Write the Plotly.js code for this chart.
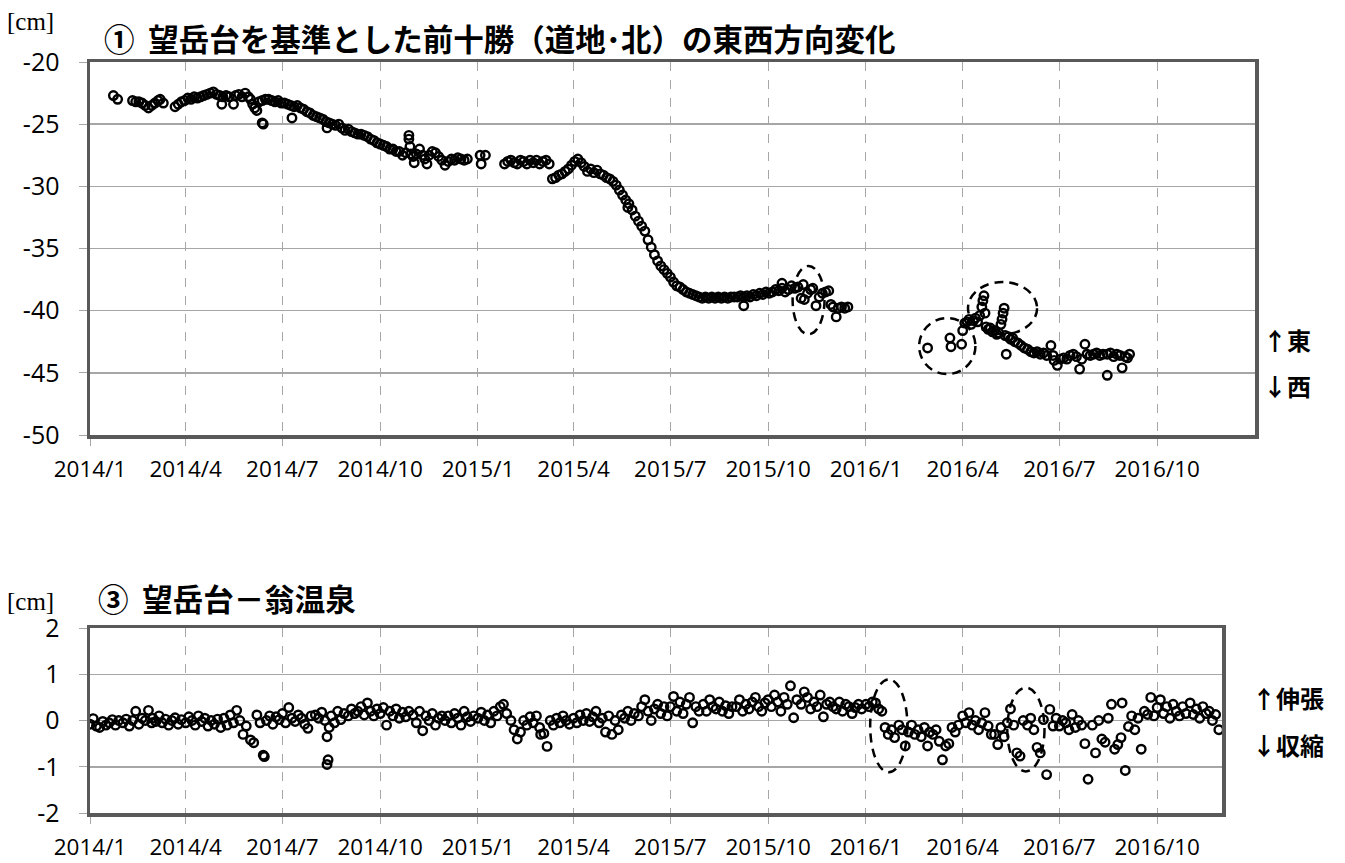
<!DOCTYPE html>
<html><head><meta charset="utf-8">
<script src="https://cdn.plot.ly/plotly-3.0.1.min.js"></script>
<style>html,body{margin:0;padding:0;background:#fff;}#chart{width:1345px;height:863px;}</style>
</head><body><div id="chart"></div>
<script>
// ---- Panel 1: 望岳台を基準とした前十勝(道地・北)の東西方向変化 [cm]
const topDates = [
"2014-01-23","2014-01-27","2014-02-10","2014-02-13","2014-02-16","2014-02-19","2014-02-22","2014-02-25","2014-02-28","2014-03-03",
"2014-03-06","2014-03-08","2014-03-11","2014-03-22","2014-03-25","2014-03-28","2014-03-31","2014-04-03","2014-04-06","2014-04-09",
"2014-04-12","2014-04-15","2014-04-18","2014-04-21","2014-04-24","2014-04-27","2014-04-30","2014-05-03","2014-05-05","2014-05-06",
"2014-05-09","2014-05-12","2014-05-16","2014-05-18","2014-05-21","2014-05-24","2014-05-27","2014-05-30","2014-06-01","2014-06-03",
"2014-06-05","2014-06-07","2014-06-09","2014-06-12","2014-06-13","2014-06-12","2014-06-15","2014-06-18","2014-06-21","2014-06-24",
"2014-06-27","2014-06-30","2014-07-03","2014-07-06","2014-07-09","2014-07-10","2014-07-12","2014-07-15","2014-07-18","2014-07-21",
"2014-07-24","2014-07-27","2014-07-30","2014-08-02","2014-08-05","2014-08-08","2014-08-11","2014-08-12","2014-08-14","2014-08-17",
"2014-08-20","2014-08-23","2014-08-26","2014-08-29","2014-09-01","2014-09-04","2014-09-07","2014-09-10","2014-09-13","2014-09-16",
"2014-09-19","2014-09-22","2014-09-25","2014-09-28","2014-10-01","2014-10-04","2014-10-07","2014-10-10","2014-10-13","2014-10-16",
"2014-10-19","2014-10-22","2014-10-25","2014-10-28","2014-10-28","2014-10-29","2014-10-30","2014-11-01","2014-11-02","2014-11-04",
"2014-11-07","2014-11-10","2014-11-12","2014-11-14","2014-11-16","2014-11-19","2014-11-22","2014-11-25","2014-11-28","2014-12-01",
"2014-12-04","2014-12-07","2014-12-10","2014-12-13","2014-12-16","2014-12-19","2014-12-22","2015-01-03","2015-01-04","2015-01-08",
"2015-01-26","2015-01-29","2015-02-01","2015-02-04","2015-02-07","2015-02-10","2015-02-13","2015-02-16","2015-02-19","2015-02-22",
"2015-02-25","2015-02-28","2015-03-03","2015-03-06","2015-03-09","2015-03-12","2015-03-15","2015-03-18","2015-03-21","2015-03-24",
"2015-03-27","2015-03-30","2015-04-02","2015-04-05","2015-04-08","2015-04-11","2015-04-14","2015-04-17","2015-04-20","2015-04-23",
"2015-04-26","2015-04-29","2015-05-02","2015-05-05","2015-05-08","2015-05-11","2015-05-14","2015-05-17","2015-05-20","2015-05-22",
"2015-05-23","2015-05-26","2015-05-29","2015-06-01","2015-06-04","2015-06-07","2015-06-10","2015-06-13","2015-06-16","2015-06-19",
"2015-06-22","2015-06-25","2015-06-28","2015-07-01","2015-07-04","2015-07-07","2015-07-10","2015-07-13","2015-07-16","2015-07-19",
"2015-07-22","2015-07-25","2015-07-28","2015-07-31","2015-08-03","2015-08-06","2015-08-09","2015-08-12","2015-08-15","2015-08-18",
"2015-08-21","2015-08-24","2015-08-27","2015-08-30","2015-09-02","2015-09-05","2015-09-08","2015-09-08","2015-09-11","2015-09-14",
"2015-09-17","2015-09-20","2015-09-23","2015-09-26","2015-09-29","2015-10-02","2015-10-05","2015-10-08","2015-10-11","2015-10-14",
"2015-10-14","2015-10-17","2015-10-20","2015-10-23","2015-10-26","2015-10-29","2015-11-01","2015-11-03","2015-11-04","2015-11-07",
"2015-11-10","2015-11-12","2015-11-15","2015-11-18","2015-11-21","2015-11-24","2015-11-27","2015-11-29","2015-12-01","2015-12-04",
"2015-12-06","2015-12-09","2015-12-12","2015-12-15",
"2016-02-28","2016-03-20","2016-03-21","2016-03-31","2016-04-01","2016-04-03","2016-04-05","2016-04-07","2016-04-09","2016-04-11",
"2016-04-13","2016-04-15","2016-04-17","2016-04-19","2016-04-20","2016-04-21","2016-04-22","2016-04-23","2016-04-25","2016-04-27",
"2016-04-29","2016-05-01","2016-05-03","2016-05-05","2016-05-07","2016-05-08","2016-05-09","2016-05-10","2016-05-11","2016-05-12",
"2016-05-14","2016-05-16","2016-05-18","2016-05-20","2016-05-23","2016-05-26","2016-05-29","2016-06-01","2016-06-04","2016-06-07",
"2016-06-10","2016-06-13","2016-06-16","2016-06-19","2016-06-23","2016-06-25","2016-06-26","2016-06-29","2016-07-02","2016-07-05",
"2016-07-08","2016-07-11","2016-07-14","2016-07-17","2016-07-20","2016-07-22","2016-07-25","2016-07-27","2016-07-30","2016-08-02",
"2016-08-05","2016-08-08","2016-08-11","2016-08-15","2016-08-15","2016-08-18","2016-08-21","2016-08-24","2016-08-27","2016-08-29",
"2016-09-01","2016-09-03","2016-09-05"
];
const topValues = [
-22.7,-23.0,-23.1,-23.2,-23.2,-23.3,-23.5,-23.7,-23.5,-23.3,
-23.1,-23.0,-23.3,-23.6,-23.4,-23.2,-23.1,-22.9,-23.0,-22.8,
-22.9,-22.8,-22.7,-22.6,-22.5,-22.4,-22.6,-22.7,-23.4,-22.8,
-22.7,-22.8,-23.4,-22.7,-22.6,-22.8,-22.5,-22.8,-23.0,-23.4,
-23.7,-23.9,-23.2,-24.9,-25.0,-23.1,-23.0,-23.0,-23.1,-23.2,
-23.1,-23.3,-23.3,-23.4,-23.5,-24.5,-23.6,-23.5,-23.7,-23.8,
-24.0,-24.1,-24.3,-24.4,-24.5,-24.6,-24.8,-25.3,-24.9,-25.0,
-25.1,-25.0,-25.3,-25.5,-25.4,-25.6,-25.7,-25.8,-25.8,-25.9,
-26.0,-26.2,-26.3,-26.5,-26.6,-26.7,-26.8,-27.0,-27.0,-27.2,
-27.2,-27.5,-27.3,-25.9,-26.2,-26.8,-27.4,-27.6,-28.1,-27.4,
-27.0,-27.5,-27.8,-28.2,-27.5,-27.2,-27.3,-27.6,-27.9,-28.3,
-28.0,-27.8,-27.9,-27.7,-27.8,-27.9,-27.8,-27.5,-28.2,-27.5,
-28.2,-28.0,-27.9,-28.1,-28.2,-27.9,-28.0,-28.2,-27.9,-28.1,
-27.9,-28.2,-28.0,-27.9,-28.2,-29.4,-29.3,-29.1,-29.0,-28.8,
-28.6,-28.3,-28.0,-27.8,-28.1,-28.4,-28.8,-28.6,-28.9,-28.7,
-29.0,-29.1,-29.3,-29.4,-29.6,-29.9,-30.3,-30.7,-31.1,-31.7,
-31.4,-31.9,-32.4,-32.8,-33.2,-33.6,-34.3,-34.9,-35.5,-36.0,
-36.4,-36.7,-37.0,-37.3,-37.7,-38.0,-38.1,-38.3,-38.5,-38.6,
-38.7,-38.8,-38.9,-39.0,-38.9,-39.0,-38.9,-39.0,-38.9,-39.0,
-38.9,-39.0,-38.9,-38.9,-38.9,-38.8,-39.6,-38.9,-38.8,-38.9,
-38.7,-38.8,-38.6,-38.7,-38.5,-38.6,-38.5,-38.3,-38.4,-37.8,
-38.2,-38.5,-38.3,-38.0,-38.2,-38.1,-39.0,-37.9,-39.1,-38.6,
-38.3,-38.2,-39.6,-38.9,-38.6,-38.5,-38.4,-39.5,-39.7,-40.5,
-39.8,-39.7,-39.8,-39.7,
-43.0,-42.2,-42.9,-42.7,-41.6,-41.0,-40.9,-40.7,-41.1,-40.8,
-40.6,-40.9,-40.4,-39.7,-39.2,-38.8,-40.2,-41.3,-41.5,-41.4,
-41.7,-41.6,-41.9,-41.8,-41.1,-40.7,-40.2,-39.8,-42.0,-43.5,
-42.1,-42.3,-42.2,-42.5,-42.6,-42.8,-43.0,-43.1,-43.3,-43.4,
-43.3,-43.5,-43.4,-43.6,-42.8,-43.6,-44.0,-44.4,-43.9,-43.8,
-43.9,-43.6,-43.5,-43.7,-44.7,-43.9,-42.7,-43.5,-43.6,-43.5,
-43.4,-43.6,-43.5,-45.2,-43.5,-43.4,-43.7,-43.5,-43.6,-44.6,
-43.7,-43.8,-43.5
];

// ---- Panel 3: 望岳台－翁温泉 [cm]
const bottomDates = [
"2014-01-01","2014-01-04","2014-01-07","2014-01-10","2014-01-13","2014-01-16","2014-01-19","2014-01-22","2014-01-25","2014-01-28",
"2014-02-01","2014-02-04","2014-02-07","2014-02-10","2014-02-13","2014-02-16","2014-02-19","2014-02-22","2014-02-25","2014-02-28",
"2014-03-01","2014-03-04","2014-03-07","2014-03-10","2014-03-13","2014-03-16","2014-03-19","2014-03-22","2014-03-25","2014-03-28",
"2014-04-01","2014-04-04","2014-04-07","2014-04-10","2014-04-13","2014-04-16","2014-04-19","2014-04-22","2014-04-25","2014-04-28",
"2014-05-01","2014-05-04","2014-05-07","2014-05-10","2014-05-13","2014-05-16","2014-05-19","2014-05-22","2014-05-25","2014-05-28",
"2014-06-01","2014-06-04","2014-06-07","2014-06-10","2014-06-13","2014-06-16","2014-06-19","2014-06-22","2014-06-25","2014-06-28",
"2014-07-01","2014-07-04","2014-07-07","2014-07-10","2014-07-13","2014-07-16","2014-07-19","2014-07-22","2014-07-25","2014-07-28",
"2014-08-01","2014-08-04","2014-08-07","2014-08-10","2014-08-13","2014-08-16","2014-08-19","2014-08-22","2014-08-25","2014-08-28",
"2014-09-01","2014-09-04","2014-09-07","2014-09-10","2014-09-13","2014-09-16","2014-09-19","2014-09-22","2014-09-25","2014-09-28",
"2014-10-01","2014-10-04","2014-10-07","2014-10-10","2014-10-13","2014-10-16","2014-10-19","2014-10-22","2014-10-25","2014-10-28",
"2014-11-01","2014-11-04","2014-11-07","2014-11-10","2014-11-13","2014-11-16","2014-11-19","2014-11-22","2014-11-25","2014-11-28",
"2014-12-01","2014-12-04","2014-12-07","2014-12-10","2014-12-13","2014-12-16","2014-12-19","2014-12-22","2014-12-25","2014-12-28",
"2015-01-01","2015-01-04","2015-01-07","2015-01-10","2015-01-13","2015-01-16","2015-01-19","2015-01-22","2015-01-25","2015-01-28",
"2015-02-01","2015-02-04","2015-02-07","2015-02-10","2015-02-13","2015-02-16","2015-02-19","2015-02-22","2015-02-25","2015-02-28",
"2015-03-01","2015-03-04","2015-03-07","2015-03-10","2015-03-13","2015-03-16","2015-03-19","2015-03-22","2015-03-25","2015-03-28",
"2015-04-01","2015-04-04","2015-04-07","2015-04-10","2015-04-13","2015-04-16","2015-04-19","2015-04-22","2015-04-25","2015-04-28",
"2015-05-01","2015-05-04","2015-05-07","2015-05-10","2015-05-13","2015-05-16","2015-05-19","2015-05-22","2015-05-25","2015-05-28",
"2015-06-01","2015-06-04","2015-06-07","2015-06-10","2015-06-13","2015-06-16","2015-06-19","2015-06-22","2015-06-25","2015-06-28",
"2015-07-01","2015-07-04","2015-07-07","2015-07-10","2015-07-13","2015-07-16","2015-07-19","2015-07-22","2015-07-25","2015-07-28",
"2015-08-01","2015-08-04","2015-08-07","2015-08-10","2015-08-13","2015-08-16","2015-08-19","2015-08-22","2015-08-25","2015-08-28",
"2015-09-01","2015-09-04","2015-09-07","2015-09-10","2015-09-13","2015-09-16","2015-09-19","2015-09-22","2015-09-25","2015-09-28",
"2015-10-01","2015-10-04","2015-10-07","2015-10-10","2015-10-13","2015-10-16","2015-10-19","2015-10-22","2015-10-25","2015-10-28",
"2015-11-01","2015-11-04","2015-11-07","2015-11-10","2015-11-13","2015-11-16","2015-11-19","2015-11-22","2015-11-25","2015-11-28",
"2015-12-01","2015-12-04","2015-12-07","2015-12-10","2015-12-13","2015-12-16","2015-12-19","2015-12-22","2015-12-25","2015-12-28",
"2016-01-01","2016-01-04","2016-01-07","2016-01-10","2016-01-13","2016-01-16","2016-01-19","2016-01-22","2016-01-25","2016-01-28",
"2016-02-01","2016-02-04","2016-02-07","2016-02-10","2016-02-13","2016-02-16","2016-02-19","2016-02-22","2016-02-25","2016-02-28",
"2016-03-01","2016-03-04","2016-03-07","2016-03-10","2016-03-13","2016-03-16","2016-03-19","2016-03-22","2016-03-25","2016-03-28",
"2016-04-01","2016-04-04","2016-04-07","2016-04-10","2016-04-13","2016-04-16","2016-04-19","2016-04-22","2016-04-25","2016-04-28",
"2016-05-01","2016-05-04","2016-05-07","2016-05-10","2016-05-13","2016-05-16","2016-05-19","2016-05-22","2016-05-25","2016-05-28",
"2016-06-01","2016-06-04","2016-06-07","2016-06-10","2016-06-13","2016-06-16","2016-06-19","2016-06-22","2016-06-25","2016-06-28",
"2016-07-01","2016-07-04","2016-07-07","2016-07-10","2016-07-13","2016-07-16","2016-07-19","2016-07-22","2016-07-25","2016-07-28",
"2016-08-01","2016-08-04","2016-08-07","2016-08-10","2016-08-13","2016-08-16","2016-08-19","2016-08-22","2016-08-25","2016-08-28",
"2016-09-01","2016-09-04","2016-09-07","2016-09-10","2016-09-13","2016-09-16","2016-09-19","2016-09-22","2016-09-25","2016-09-28",
"2016-10-01","2016-10-04","2016-10-07","2016-10-10","2016-10-13","2016-10-16","2016-10-19","2016-10-22","2016-10-25","2016-10-28",
"2016-11-01","2016-11-04","2016-11-07","2016-11-10","2016-11-13","2016-11-16","2016-11-19","2016-11-22","2016-11-25","2016-11-28",
"2014-06-14","2014-08-12","2014-08-12","2014-08-14","2016-08-29"
];
const bottomValues = [
-0.08,0.04,-0.12,-0.15,-0.02,-0.10,-0.05,0.02,-0.10,0.00,
-0.05,0.03,-0.12,0.00,0.20,-0.08,0.05,0.00,0.22,-0.05,
0.05,-0.02,0.10,-0.05,0.03,-0.10,0.00,0.06,-0.08,0.02,
-0.05,0.08,0.00,-0.10,0.10,-0.02,0.05,-0.12,0.00,-0.08,
0.03,-0.15,0.05,-0.10,0.12,-0.05,0.22,0.00,-0.30,-0.12,
-0.42,-0.48,0.12,-0.05,-0.75,0.00,0.10,-0.08,0.08,0.02,
0.15,-0.05,0.28,0.05,-0.02,0.12,0.05,-0.08,-0.17,0.10,
0.12,0.05,0.18,0.00,-0.85,0.10,-0.05,0.20,0.02,0.15,
0.10,0.25,0.15,0.20,0.30,0.12,0.38,0.20,0.10,0.25,
0.15,0.28,-0.10,0.20,0.10,0.25,0.05,0.18,0.08,0.20,
0.12,-0.05,0.20,-0.22,0.10,0.00,0.15,-0.10,0.05,0.10,
0.00,0.10,-0.05,0.15,0.05,-0.10,0.20,0.08,-0.02,0.10,
0.05,0.18,0.00,0.12,-0.05,0.20,0.10,0.30,0.35,0.15,
0.00,-0.20,-0.40,-0.25,0.00,-0.10,0.08,-0.05,0.10,-0.15,
-0.30,-0.28,-0.56,0.00,-0.10,0.05,-0.05,0.10,0.00,-0.08,
0.05,-0.05,0.12,0.00,0.15,-0.02,0.08,0.20,-0.05,0.05,
-0.25,0.10,-0.30,0.00,-0.20,0.12,0.05,0.20,0.00,0.15,
0.10,0.30,0.45,0.20,0.00,0.25,0.35,0.15,0.30,0.10,
0.30,0.52,0.20,0.40,0.15,0.35,0.50,-0.05,0.30,0.20,
0.35,0.20,0.45,0.30,0.25,0.40,0.20,0.32,0.15,0.30,
0.30,0.45,0.20,0.35,0.25,0.40,0.50,0.30,0.20,0.38,
0.45,0.30,0.55,0.40,0.20,0.50,0.35,0.75,0.06,0.45,
0.35,0.62,0.50,0.25,0.40,0.30,0.55,0.08,0.35,0.40,
0.30,0.25,0.40,0.20,0.35,0.30,0.15,0.28,0.35,0.25,
0.35,0.30,0.40,0.38,0.25,0.20,-0.15,-0.30,-0.20,-0.37,
-0.10,-0.20,-0.55,-0.25,-0.10,-0.30,-0.20,-0.35,-0.15,-0.55,
-0.25,-0.30,-0.20,-0.45,-0.85,-0.55,-0.50,-0.15,-0.25,-0.10,
0.10,-0.05,0.17,-0.10,0.00,-0.20,-0.05,0.17,-0.12,-0.30,
-0.30,-0.52,-0.15,-0.35,-0.05,0.25,-0.10,-0.70,-0.77,0.00,
-0.10,0.05,-0.20,-0.58,-0.70,0.02,-1.17,0.24,-0.12,0.05,
-0.12,0.00,-0.05,-0.20,0.13,-0.15,0.00,-0.10,-0.50,-1.27,
-0.10,-0.70,0.00,-0.40,-0.47,0.05,0.35,-0.62,-0.52,-0.37,
-1.08,-0.13,0.10,-0.20,0.05,-0.62,0.20,0.13,0.50,0.10,
0.28,0.45,0.15,0.30,0.05,0.35,0.20,0.10,0.30,0.15,
0.38,0.13,0.25,0.05,0.30,0.15,0.20,0.00,0.13,-0.20,
-0.78,-0.95,-0.35,-0.15,0.38
];

const xTickVals = ["2014-01-01","2014-04-01","2014-07-01","2014-10-01","2015-01-01","2015-04-01","2015-07-01","2015-10-01","2016-01-01","2016-04-01","2016-07-01","2016-10-01"];
const xTickText = ["2014/1","2014/4","2014/7","2014/10","2015/1","2015/4","2015/7","2015/10","2016/1","2016/4","2016/7","2016/10"];
const topYTicks = [-50,-45,-40,-35,-30,-25,-20];
const topYText = ["-50","-45","-40","-35","-30","-25","-20"];
const botYTicks = [-2,-1,0,1,2];
const botYText = ["-2","-1","0","1","2"];

const W = 1345, H = 863;
const px = v => v / W;
const py = v => 1 - v / H;

const markerStyle = {symbol: 'circle-open', size: 8.5, color: '#000', line: {width: 2.4, color: '#000'}};
const data = [
  {x: topDates, y: topValues, type: 'scatter', mode: 'markers', marker: markerStyle, xaxis: 'x', yaxis: 'y', hoverinfo: 'x+y'},
  {x: bottomDates, y: bottomValues, type: 'scatter', mode: 'markers', marker: markerStyle, xaxis: 'x2', yaxis: 'y2', hoverinfo: 'x+y'}
];

const tickFontX = {family: 'Open Sans, Noto Sans, sans-serif', size: 22.5, color: '#000'};
const tickFontY = {family: 'Open Sans, Noto Sans, sans-serif', size: 25, color: '#000'};
const frame = {showline: true, mirror: true, linecolor: '#595959', linewidth: 3.5};

const xBase = Object.assign({
  type: 'date', tickmode: 'array', tickvals: xTickVals, ticktext: xTickText,
  showgrid: true, gridcolor: '#a6a6a6', gridwidth: 1, griddash: 'dash',
  ticks: 'outside', ticklen: 7, tickcolor: '#a6a6a6', tickwidth: 1,
  tickfont: tickFontX, ticklabelstandoff: 4, zeroline: false, fixedrange: true
}, frame);
const yBase = Object.assign({
  tickmode: 'array', showgrid: true, gridcolor: '#a6a6a6', gridwidth: 1.5,
  ticks: 'outside', ticklen: 8, tickcolor: '#a6a6a6', tickwidth: 1,
  tickfont: tickFontY, ticklabelstandoff: 14, zeroline: false, fixedrange: true
}, frame);

const cjk = 'Noto Sans CJK JP, sans-serif';
const serif = 'Liberation Serif, serif';
const ellipse = (xr, yr, x0, x1, y0, y1) => ({
  type: 'circle', xref: xr, yref: yr, x0: x0, x1: x1, y0: y0, y1: y1,
  line: {color: '#000', width: 2.5, dash: '9px,6px'}
});

const layout = {
  width: W, height: H, margin: {l: 0, r: 0, t: 0, b: 0},
  paper_bgcolor: '#fff', plot_bgcolor: '#fff', showlegend: false,
  xaxis: Object.assign({}, xBase, {domain: [px(90), px(1255)], range: ['2014-01-01', '2017-01-01'], anchor: 'y'}),
  yaxis: Object.assign({}, yBase, {domain: [py(435), py(62)], range: [-50, -20], tickvals: topYTicks, ticktext: topYText, anchor: 'x'}),
  xaxis2: Object.assign({}, xBase, {domain: [px(90), px(1222)], range: ['2014-01-01', '2016-12-01'], anchor: 'y2'}),
  yaxis2: Object.assign({}, yBase, {domain: [py(813), py(628)], range: [-2, 2], tickvals: botYTicks, ticktext: botYText, anchor: 'x2'}),
  shapes: [
    ellipse('x', 'y', '2015-10-24', '2015-11-23', -41.9, -36.4),
    ellipse('x', 'y', '2016-02-20', '2016-04-13', -45.1, -40.6),
    ellipse('x', 'y', '2016-04-06', '2016-06-10', -41.9, -37.7),
    ellipse('x2', 'y2', '2016-01-05', '2016-02-09', -1.12, 0.89),
    ellipse('x2', 'y2', '2016-05-13', '2016-06-17', -1.10, 0.71)
  ],
  annotations: [
    {text: '[cm]', xref: 'paper', yref: 'paper', x: px(5), y: py(21), xanchor: 'left', yanchor: 'middle', showarrow: false, font: {family: serif, size: 25, color: '#000'}},
    {text: '<b>①  望岳台を基準とした前十勝（道地･北）の東西方向変化</b>', xref: 'paper', yref: 'paper', x: px(102), y: py(38), xanchor: 'left', yanchor: 'middle', showarrow: false, font: {family: cjk, size: 30.5, color: '#000'}},
    {text: '[cm]', xref: 'paper', yref: 'paper', x: px(5), y: py(601), xanchor: 'left', yanchor: 'middle', showarrow: false, font: {family: serif, size: 25, color: '#000'}},
    {text: '<b>③  望岳台－翁温泉</b>', xref: 'paper', yref: 'paper', x: px(96), y: py(598), xanchor: 'left', yanchor: 'middle', showarrow: false, font: {family: cjk, size: 30.5, color: '#000'}},
    {text: '<b>↑東</b>', xref: 'paper', yref: 'paper', x: px(1261), y: py(339), xanchor: 'left', yanchor: 'middle', showarrow: false, font: {family: cjk, size: 24, color: '#000'}},
    {text: '<b>↓西</b>', xref: 'paper', yref: 'paper', x: px(1261), y: py(385), xanchor: 'left', yanchor: 'middle', showarrow: false, font: {family: cjk, size: 24, color: '#000'}},
    {text: '<b>↑伸張</b>', xref: 'paper', yref: 'paper', x: px(1250), y: py(697), xanchor: 'left', yanchor: 'middle', showarrow: false, font: {family: cjk, size: 24, color: '#000'}},
    {text: '<b>↓収縮</b>', xref: 'paper', yref: 'paper', x: px(1250), y: py(744), xanchor: 'left', yanchor: 'middle', showarrow: false, font: {family: cjk, size: 24, color: '#000'}}
  ]
};

Plotly.newPlot('chart', data, layout, {staticPlot: true, displayModeBar: false});
</script>
</body></html>
